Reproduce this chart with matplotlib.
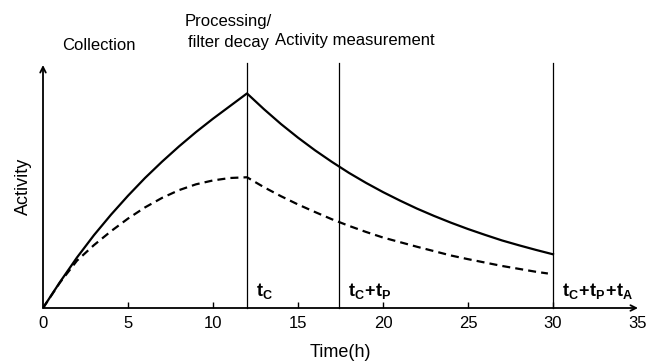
import matplotlib
matplotlib.use("Agg")
import matplotlib.pyplot as plt

plt.rcParams['font.family'] = ['Liberation Sans', 'DejaVu Sans']
plt.rcParams['mathtext.fontset'] = 'custom'
plt.rcParams['mathtext.rm'] = 'Liberation Sans'
plt.rcParams['mathtext.bf'] = 'Liberation Sans:bold'

# Data
solid_t = [0, 1, 2, 3, 4, 5, 6, 7, 8, 9, 10, 11, 12,
           13, 14, 15, 16, 17, 18, 19, 20, 21, 22, 23, 24, 25, 26, 27, 28, 29, 30]
solid_a = [0, 0.107, 0.208, 0.300, 0.384, 0.462, 0.535, 0.602, 0.665, 0.724, 0.779, 0.831, 0.883,
           0.818, 0.757, 0.701, 0.649, 0.601, 0.556, 0.515, 0.477, 0.442, 0.409, 0.379, 0.351,
           0.325, 0.301, 0.278, 0.258, 0.239, 0.221]

dashed_t = [0, 1, 2, 3, 4, 5, 6, 7, 8, 9, 10, 11, 12,
            13, 14, 15, 16, 17, 18, 19, 20, 21, 22, 23, 24, 25, 26, 27, 28, 29, 29.7]
dashed_a = [0, 0.105, 0.195, 0.259, 0.316, 0.368, 0.414, 0.453, 0.485, 0.509, 0.525, 0.535, 0.538,
            0.497, 0.460, 0.426, 0.395, 0.365, 0.338, 0.313, 0.290, 0.271, 0.252, 0.234, 0.216,
            0.201, 0.187, 0.173, 0.161, 0.149, 0.142]

phase_edges = [12.0, 17.4, 30.0]
phase_labels = [r'$\mathbf{t_C}$', r'$\mathbf{t_C\!+\!t_P}$', r'$\mathbf{t_C\!+\!t_P\!+\!t_A}$']
phase_names = ['Collection', 'Processing/\nfilter decay', 'Activity measurement']
name_x = [3.3, 10.9, 18.35]
name_y = [1.08, 1.135, 1.10]

xticks = [0, 5, 10, 15, 20, 25, 30, 35]

fig = plt.figure(figsize=(6.62, 3.61), dpi=100)
ax = fig.add_axes([43 / 662, 53 / 361, 595 / 662, 243 / 361])
ax.set_xlim(0, 35)
ax.set_ylim(0, 1)

ax.plot(solid_t, solid_a, color='black', lw=1.6)
ax.plot(dashed_t, dashed_a, color='black', lw=1.6, dashes=(3.6, 2.3))

for x, lab in zip(phase_edges, phase_labels):
    ax.plot([x, x], [0, 1.01], color='black', lw=0.9, clip_on=False)
    ax.text(x + 0.55, 0.03, lab, fontsize=13, ha='left', va='bottom')

for x, y, name in zip(name_x, name_y, phase_names):
    ax.text(x, y, name, fontsize=12, ha='center', va='center',
            linespacing=1.55, clip_on=False)

# axes drawn as arrows
for s in ax.spines.values():
    s.set_visible(False)
ax.annotate('', xy=(35, 0), xytext=(0, 0), annotation_clip=False,
            arrowprops=dict(arrowstyle='->', lw=1.3, color='black', shrinkA=0, shrinkB=0))
ax.annotate('', xy=(0, 1.0), xytext=(0, 0), annotation_clip=False,
            arrowprops=dict(arrowstyle='->', lw=1.3, color='black', shrinkA=0, shrinkB=0))

ax.set_xticks(xticks)
ax.set_xticklabels([str(v) for v in xticks], fontsize=12)
ax.tick_params(axis='x', direction='in', length=4, width=1, pad=6)
ticks = ax.xaxis.get_major_ticks()
ticks[0].tick1line.set_visible(False)
ticks[-1].tick1line.set_visible(False)
ax.set_yticks([])

ax.set_xlabel('Time(h)', fontsize=13, labelpad=9)
ax.set_ylabel('Activity', fontsize=13, labelpad=8)

fig.savefig('out.png', dpi=100)
